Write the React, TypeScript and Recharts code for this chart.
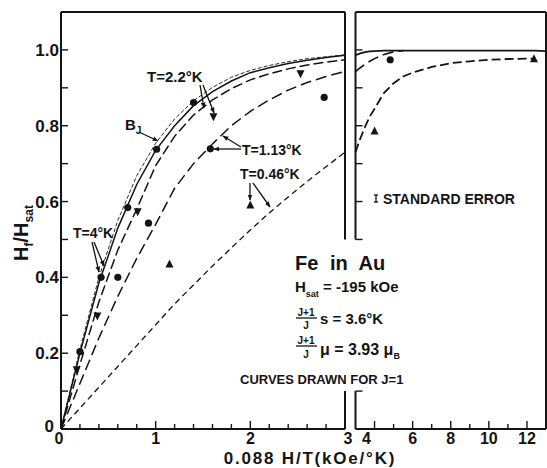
import React from 'react';
import { ComposedChart, Line, Scatter, XAxis, YAxis, ReferenceLine } from 'recharts';

const INK = '#141414';
const FONT = '"Liberation Sans", Arial, sans-serif';
const W = 547;
const H = 468;

// left panel: 0.088 H/T from 0 to 3
const leftX = [0, 0.2, 0.4, 0.6, 0.8, 1.0, 1.2, 1.4, 1.6, 1.8, 2.0, 2.2, 2.4, 2.6, 2.8, 3.0];
const brillouinY = [0, 0.21, 0.4, 0.55, 0.668, 0.754, 0.818, 0.866, 0.901, 0.928, 0.946, 0.959, 0.969, 0.977, 0.982, 0.987];
const t4Y = [0, 0.2, 0.385, 0.53, 0.645, 0.735, 0.8, 0.853, 0.89, 0.918, 0.94, 0.953, 0.964, 0.973, 0.98, 0.986];
const t22Y = [0, 0.17, 0.335, 0.472, 0.58, 0.695, 0.772, 0.828, 0.868, 0.898, 0.921, 0.937, 0.95, 0.96, 0.968, 0.974];
const t113Y = [0, 0.12, 0.24, 0.35, 0.45, 0.54, 0.635, 0.7, 0.752, 0.8, 0.838, 0.868, 0.894, 0.914, 0.93, 0.943];
const t046Y = [0, 0.055, 0.11, 0.165, 0.22, 0.275, 0.33, 0.38, 0.43, 0.478, 0.525, 0.57, 0.612, 0.653, 0.692, 0.73];

// right panel: 3 to 13
const rightX = [3, 3.25, 3.5, 3.75, 4, 4.5, 5, 5.5, 6, 7, 8, 9, 10, 11, 12, 12.4, 13];
const rSolidY = [0.986, 0.991, 0.994, 0.996, 0.997, 0.998, 0.998, 0.998, 0.998, 0.998, 0.998, 0.998, 0.998, 0.998, 0.998, 0.998, 0.997];
const r113Y = [0.943, 0.953, 0.962, 0.97, 0.977, 0.988, 0.995, 0.998, null, null, null, null, null, null, null, null, null];
const r046Y = [0.73, 0.766, 0.797, 0.824, 0.845, 0.887, 0.912, 0.93, 0.94, 0.955, 0.965, 0.97, 0.974, 0.976, 0.977, 0.977, null];

// measured points
const dotX = [0.2, 0.423, 0.6, 0.705, 0.924, 1.01, 1.4, 1.577, 2.78, 4.82];
const dotY = [0.204, 0.4, 0.4, 0.584, 0.543, 0.738, 0.861, 0.739, 0.875, 0.974];
const downX = [0.166, 0.384, 0.81, 1.61, 2.53];
const downY = [0.156, 0.298, 0.573, 0.824, 0.937];
const upX = [1.146, 2.0, 4.0, 12.37];
const upY = [0.435, 0.591, 0.786, 0.977];

// ticks
const yTicks = [0, 0.1, 0.2, 0.3, 0.4, 0.5, 0.6, 0.7, 0.8, 0.9, 1.0];
const yLabels: Record<string, string> = { '0': '0', '0.2': '0.2', '0.4': '0.4', '0.6': '0.6', '0.8': '0.8', '1': '1.0' };
const edgeTicks = [0.1, 0.5, 0.6, 0.7, 0.8, 0.9, 1.0];
const leftXTicks = [0, 0.2, 0.4, 0.6, 0.8, 1, 1.2, 1.4, 1.6, 1.8, 2, 2.2, 2.4, 2.6, 2.8, 3];
const leftXLabels: Record<string, string> = { '0': '0', '1': '1', '2': '2', '3': '3' };
const rightXTicks = [4, 5, 6, 7, 8, 9, 10, 11, 12];
const rightXLabels: Record<string, string> = { '4': '4', '6': '6', '8': '8', '10': '10', '12': '12' };

const zip = (xs: number[], ys: (number | null)[]) => xs.map((x, i) => ({ x, y: ys[i] }));
const inLeft = (p: { x: number }) => p.x <= 3;
const inRight = (p: { x: number }) => p.x > 3;

const dots = zip(dotX, dotY);
const downs = zip(downX, downY);
const ups = zip(upX, upY);

const isMajor = (v: number, step: number) => Math.abs(v / step - Math.round(v / step)) < 1e-6;

const Dot = (p: any) => <circle cx={p.cx} cy={p.cy} r={3.6} fill={INK} />;
const Up = (p: any) => (
  <polygon points={`${p.cx},${p.cy - 4.5} ${p.cx - 4},${p.cy + 3.5} ${p.cx + 4},${p.cy + 3.5}`} fill={INK} />
);
const Down = (p: any) => (
  <polygon points={`${p.cx},${p.cy + 4.5} ${p.cx - 4},${p.cy - 3.5} ${p.cx + 4},${p.cy - 3.5}`} fill={INK} />
);

const txt = { fontFamily: FONT, fontWeight: 700, fill: INK } as const;

const bottomTick = (labels: Record<string, string>, shift: Record<string, number>, majorStep: number) => (p: any) => {
  const v = p.payload.value;
  const key = String(+v.toFixed(2));
  const len = isMajor(v, majorStep) ? 8 : 5;
  return (
    <g>
      <line x1={p.x} x2={p.x} y1={p.y} y2={p.y - len} stroke={INK} strokeWidth={1.4} />
      {labels[key] && (
        <text x={p.x + (shift[key] || 0)} y={p.y + 15} textAnchor="middle" fontSize={16} {...txt}>
          {labels[key]}
        </text>
      )}
    </g>
  );
};

const topTick = (majorStep: number) => (p: any) => {
  const len = isMajor(p.payload.value, majorStep) ? 7 : 5;
  return <line x1={p.x} x2={p.x} y1={p.y} y2={p.y + len} stroke={INK} strokeWidth={1.4} />;
};

const leftYTick = (withLabels: boolean) => (p: any) => {
  const v = p.payload.value;
  const key = String(+v.toFixed(2));
  const atOrigin = key === '0';
  return (
    <g>
      <line x1={p.x} x2={p.x + 7} y1={p.y} y2={p.y} stroke={INK} strokeWidth={1.4} />
      {withLabels && yLabels[key] && (
        <text x={p.x - (atOrigin ? 7 : 2)} y={p.y + (atOrigin ? 3 : 6)} textAnchor="end" fontSize={17} {...txt}>
          {yLabels[key]}
        </text>
      )}
    </g>
  );
};

const rightYTick = (p: any) => <line x1={p.x} x2={p.x - 6} y1={p.y} y2={p.y} stroke={INK} strokeWidth={1.4} />;

const axisStroke = { stroke: INK, strokeWidth: 2 };

const Arrow = ({ x1, y1, x2, y2 }: { x1: number; y1: number; x2: number; y2: number }) => (
  <line x1={x1} y1={y1} x2={x2} y2={y2} stroke={INK} strokeWidth={1.3} markerEnd="url(#ah)" />
);

// plot boxes (pixels in the page)
const PLOT_TOP = 12;
const PLOT_BOTTOM = 429;
const LEFT_PLOT = { left: 61, right: 345 };
const RIGHT_PLOT = { left: 355.5, right: 546 };
const AX = 30; // room reserved for each axis

export default function App() {
  const leftLines = {
    bj: zip(leftX, brillouinY),
    t4: zip(leftX, t4Y),
    t22: zip(leftX, t22Y),
    t113: zip(leftX, t113Y),
    t046: zip(leftX, t046Y),
  };
  const rightLines = {
    solid: zip(rightX, rSolidY),
    t113: zip(rightX, r113Y),
    t046: zip(rightX, r046Y),
  };

  // the chart is AX taller at the top and bottom, so the axes' own room sits outside the page box
  const marginFor = (box: { left: number; right: number }) => ({
    top: PLOT_TOP,
    bottom: H - PLOT_BOTTOM,
    left: box.left - AX,
    right: W - box.right - AX,
  });

  return (
    <div style={{ position: 'absolute', left: 0, top: 0, width: W, height: H, background: '#fff' }}>
      <div style={{ position: 'absolute', left: 0, top: -AX }}>
        <ComposedChart width={W} height={H + 2 * AX} margin={marginFor(LEFT_PLOT)}>
          <XAxis dataKey="x" type="number" domain={[0, 3]} ticks={leftXTicks} interval={0} height={AX}
            tickSize={0} tickMargin={0} tickLine={false} axisLine={axisStroke}
            tick={bottomTick(leftXLabels, { '0': -2, '3': 3 }, 1)} />
          <XAxis xAxisId="top" orientation="top" dataKey="x" type="number" domain={[0, 3]} ticks={leftXTicks}
            interval={0} height={AX} tickSize={0} tickMargin={0} tickLine={false} axisLine={axisStroke} tick={topTick(1)} />
          <YAxis type="number" domain={[0, 1.1]} ticks={yTicks} interval={0} width={AX} tickSize={0} tickMargin={0}
            tickLine={false} axisLine={axisStroke} tick={leftYTick(true)} />
          <YAxis yAxisId="r" orientation="right" type="number" domain={[0, 1.1]} ticks={edgeTicks} interval={0}
            width={AX} tickSize={0} tickMargin={0} tickLine={false} axisLine={false} tick={rightYTick} />
          <ReferenceLine segment={[{ x: 3, y: 0.5 }, { x: 3, y: 1.1 }]} stroke={INK} strokeWidth={2} />
          <ReferenceLine segment={[{ x: 3, y: 0 }, { x: 3, y: 0.1 }]} stroke={INK} strokeWidth={2} />

          <Line data={leftLines.t046} dataKey="y" stroke={INK} strokeWidth={1.3} strokeDasharray="6 4" dot={false} isAnimationActive={false} />
          <Line data={leftLines.t113} dataKey="y" stroke={INK} strokeWidth={1.5} strokeDasharray="11 5" dot={false} isAnimationActive={false} />
          <Line data={leftLines.t22} dataKey="y" stroke={INK} strokeWidth={1.5} strokeDasharray="10 4" dot={false} isAnimationActive={false} />
          <Line data={leftLines.t4} dataKey="y" stroke={INK} strokeWidth={1.5} dot={false} isAnimationActive={false} />
          <Line data={leftLines.bj} dataKey="y" stroke={INK} strokeWidth={0.9} strokeDasharray="4 2" dot={false} isAnimationActive={false} />

          <Scatter data={dots.filter(inLeft)} dataKey="y" shape={Dot} isAnimationActive={false} />
          <Scatter data={downs.filter(inLeft)} dataKey="y" shape={Down} isAnimationActive={false} />
          <Scatter data={ups.filter(inLeft)} dataKey="y" shape={Up} isAnimationActive={false} />
        </ComposedChart>
      </div>

      <div style={{ position: 'absolute', left: 0, top: -AX }}>
        <ComposedChart width={W} height={H + 2 * AX} margin={marginFor(RIGHT_PLOT)}>
          <XAxis dataKey="x" type="number" domain={[3, 13]} ticks={rightXTicks} interval={0} height={AX}
            tickSize={0} tickMargin={0} tickLine={false} axisLine={axisStroke}
            tick={bottomTick(rightXLabels, { '4': -8 }, 2)} />
          <XAxis xAxisId="top" orientation="top" dataKey="x" type="number" domain={[3, 13]} ticks={rightXTicks}
            interval={0} height={AX} tickSize={0} tickMargin={0} tickLine={false} axisLine={axisStroke} tick={topTick(2)} />
          <YAxis type="number" domain={[0, 1.1]} ticks={edgeTicks} interval={0} width={AX} tickSize={0} tickMargin={0}
            tickLine={false} axisLine={false} tick={leftYTick(false)} />
          <YAxis yAxisId="r" orientation="right" type="number" domain={[0, 1.1]} ticks={yTicks} interval={0}
            width={AX} tickSize={0} tickMargin={0} tickLine={false} axisLine={axisStroke} tick={rightYTick} />
          <ReferenceLine segment={[{ x: 3, y: 0.5 }, { x: 3, y: 1.1 }]} stroke={INK} strokeWidth={2} />
          <ReferenceLine segment={[{ x: 3, y: 0 }, { x: 3, y: 0.1 }]} stroke={INK} strokeWidth={2} />

          <Line data={rightLines.t046} dataKey="y" stroke={INK} strokeWidth={1.8} strokeDasharray="9 4" dot={false} isAnimationActive={false} />
          <Line data={rightLines.t113} dataKey="y" stroke={INK} strokeWidth={1.6} strokeDasharray="11 5" dot={false} isAnimationActive={false} />
          <Line data={rightLines.solid} dataKey="y" stroke={INK} strokeWidth={1.8} dot={false} isAnimationActive={false} />

          <Scatter data={dots.filter(inRight)} dataKey="y" shape={Dot} isAnimationActive={false} />
          <Scatter data={ups.filter(inRight)} dataKey="y" shape={Up} isAnimationActive={false} />
        </ComposedChart>
      </div>

      <svg width={W} height={H} style={{ position: 'absolute', left: 0, top: 0, pointerEvents: 'none' }}>
        <defs>
          <marker id="ah" viewBox="0 0 10 10" refX="9" refY="5" markerWidth="6" markerHeight="6" orient="auto-start-reverse" markerUnits="userSpaceOnUse">
            <path d="M0,1 L10,5 L0,9 z" fill={INK} />
          </marker>
        </defs>

        {/* axis titles */}
        <text transform="translate(28,233) rotate(-90)" textAnchor="middle" fontSize={20} {...txt}>
          H<tspan dy={5} fontSize={12}>f</tspan><tspan dy={-5}>/H</tspan><tspan dy={5} fontSize={12}>sat</tspan>
        </text>
        <text x={310} y={464} textAnchor="middle" fontSize={17} letterSpacing={1.8} {...txt}>0.088 H/T(kOe/°K)</text>

        {/* curve labels */}
        <text x={147} y={82} fontSize={15} {...txt}>T=2.2°K</text>
        <Arrow x1={200} y1={85} x2={204} y2={108} />
        <Arrow x1={203} y1={85} x2={214} y2={113} />

        <text x={125} y={130} fontSize={15} {...txt}>B<tspan dy={4} fontSize={10}>J</tspan></text>
        <Arrow x1={139} y1={132} x2={158} y2={141} />

        <text x={73} y={238} fontSize={14} {...txt}>T=4°K</text>
        <Arrow x1={92} y1={242} x2={99} y2={272} />
        <Arrow x1={94} y1={242} x2={104} y2={266} />

        <text x={242} y={155} fontSize={14} {...txt}>T=1.13°K</text>
        <Arrow x1={241} y1={147} x2={223} y2={136} />
        <Arrow x1={241} y1={149} x2={214} y2={149} />

        <text x={240} y={179} fontSize={14} {...txt}>T=0.46°K</text>
        <Arrow x1={250} y1={183} x2={250} y2={200} />
        <Arrow x1={253} y1={183} x2={270} y2={207} />

        {/* standard error key */}
        <line x1={376} x2={376} y1={195} y2={202} stroke={INK} strokeWidth={1.3} />
        <line x1={374} x2={378} y1={195} y2={195} stroke={INK} strokeWidth={1.3} />
        <line x1={374} x2={378} y1={202} y2={202} stroke={INK} strokeWidth={1.3} />
        <text x={383} y={204} fontSize={14} {...txt}>STANDARD ERROR</text>

        {/* parameter block */}
        <text x={295} y={270} fontSize={20} wordSpacing={6} {...txt}>Fe in Au</text>
        <text x={295} y={292} fontSize={15} {...txt}>
          H<tspan dy={5} fontSize={9}>sat</tspan><tspan dy={-5}> = -195 kOe</tspan>
        </text>
        <text x={306} y={316} textAnchor="middle" fontSize={10} {...txt}>J+1</text>
        <line x1={296} x2={317} y1={318} y2={318} stroke={INK} strokeWidth={1.3} />
        <text x={306} y={329} textAnchor="middle" fontSize={10} {...txt}>J</text>
        <text x={320} y={324} fontSize={15} {...txt}>s = 3.6°K</text>
        <text x={306} y={344} textAnchor="middle" fontSize={10} {...txt}>J+1</text>
        <line x1={296} x2={317} y1={346} y2={346} stroke={INK} strokeWidth={1.3} />
        <text x={306} y={358} textAnchor="middle" fontSize={10} {...txt}>J</text>
        <text x={320} y={355} fontSize={16} {...txt}>
          μ = 3.93 μ<tspan dy={4} fontSize={9}>B</tspan>
        </text>
        <text x={240} y={384} fontSize={13} {...txt}>CURVES DRAWN FOR J=1</text>
      </svg>
    </div>
  );
}
